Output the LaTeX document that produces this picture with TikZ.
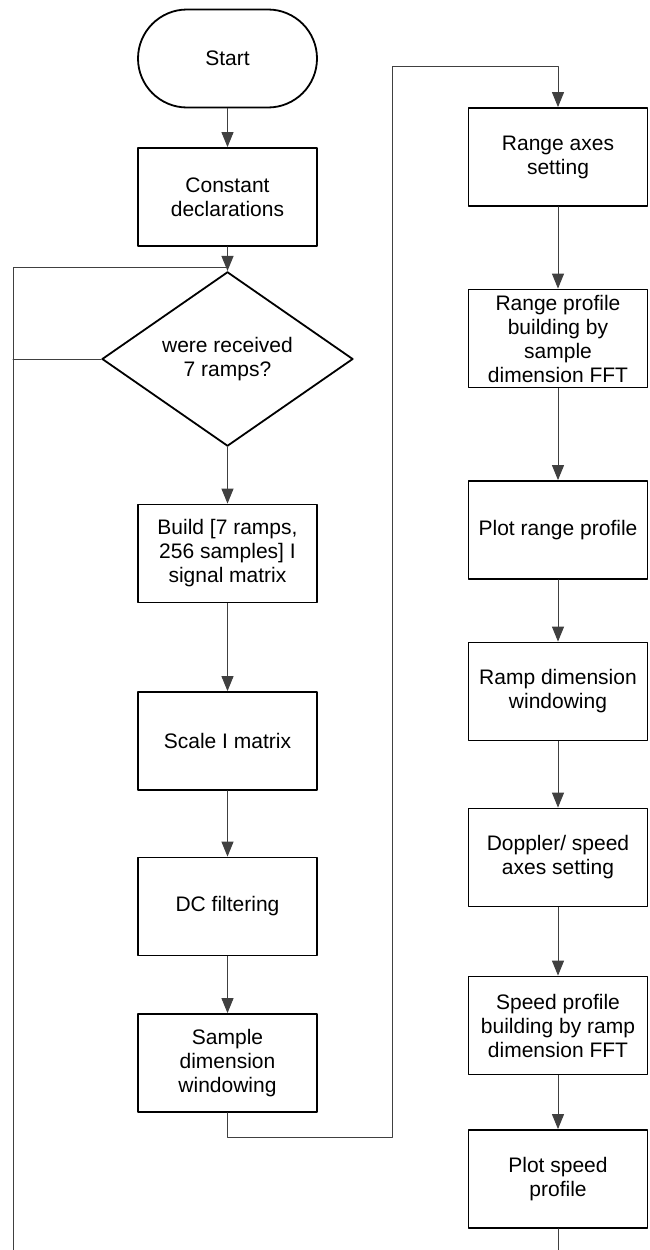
\documentclass[tikz,border=0pt]{standalone}
\usepackage{fontspec}
\setmainfont{Liberation Sans}
\usetikzlibrary{shapes.geometric,arrows.meta}

\begin{document}
\begin{tikzpicture}[x=1pt, y=1pt, line cap=round, line join=round,
    every node/.style={font=\fontsize{21}{24}\selectfont, align=center},
    stepbox/.style={draw, line width=1.8pt, minimum width=179pt, minimum height=98pt, inner sep=0pt},
    startbox/.style={stepbox, rounded corners=49pt},
    decision/.style={diamond, draw, line width=1.8pt, minimum width=251pt, minimum height=138pt, inner sep=0pt},
    flow/.style={line width=1pt, draw=black!75, -{Triangle[length=15pt, width=12pt]}},
    wire/.style={line width=1pt, draw=black!75}]

    \useasboundingbox (0,0) rectangle (650,-1250);

    % left column
    \node[startbox] (start) at (227.5,-58.5) {Start};
    \node[stepbox] (const) at (227.5,-197) {Constant\\declarations};
    \node[decision] (ramps) at (227.5,-359) {were received\\7 ramps?};
    \node[stepbox] (build) at (227.5,-553.5) {Build [7 ramps,\\256 samples] I\\signal matrix};
    \node[stepbox] (scale) at (227.5,-741) {Scale I matrix};
    \node[stepbox] (dcfilt) at (227.5,-906.5) {DC filtering};
    \node[stepbox] (swin) at (227.5,-1063) {Sample\\dimension\\windowing};

    % right column
    \node[stepbox] (raxes) at (558,-157) {Range axes\\setting};
    \node[stepbox] (rprof) at (558,-338.5) {Range profile\\building by\\sample\\dimension FFT};
    \node[stepbox] (rplot) at (558,-530) {Plot range profile};
    \node[stepbox] (rwin) at (558,-691.5) {Ramp dimension\\windowing};
    \node[stepbox] (daxes) at (558,-857.5) {Doppler/ speed\\axes setting};
    \node[stepbox] (sprof) at (558,-1025.5) {Speed profile\\building by ramp\\dimension FFT};
    \node[stepbox] (splot) at (558,-1179) {Plot speed\\profile};

    \coordinate (join) at (227.5,-267);
    \coordinate (loopend) at (13,-1250);
    \coordinate (lowturn) at (392,-1137);
    \coordinate (highturn) at (392,-66);
    \coordinate (outend) at (558,-1250);

    \draw[flow] (start) -- (const);
    \draw[flow] (const) -- (ramps);
    \draw[wire] (loopend) |- (join);
    \draw[wire] (ramps.west) -- (ramps.west -| loopend);
    \draw[flow] (ramps) -- (build);
    \draw[flow] (build) -- (scale);
    \draw[flow] (scale) -- (dcfilt);
    \draw[flow] (dcfilt) -- (swin);
    \draw[flow] (swin.south) |- (lowturn) -- (highturn) -| (raxes.north);

    \draw[flow] (raxes) -- (rprof);
    \draw[flow] (rprof) -- (rplot);
    \draw[flow] (rplot) -- (rwin);
    \draw[flow] (rwin) -- (daxes);
    \draw[flow] (daxes) -- (sprof);
    \draw[flow] (sprof) -- (splot);
    \draw[wire] (splot) -- (outend);

\end{tikzpicture}
\end{document}
